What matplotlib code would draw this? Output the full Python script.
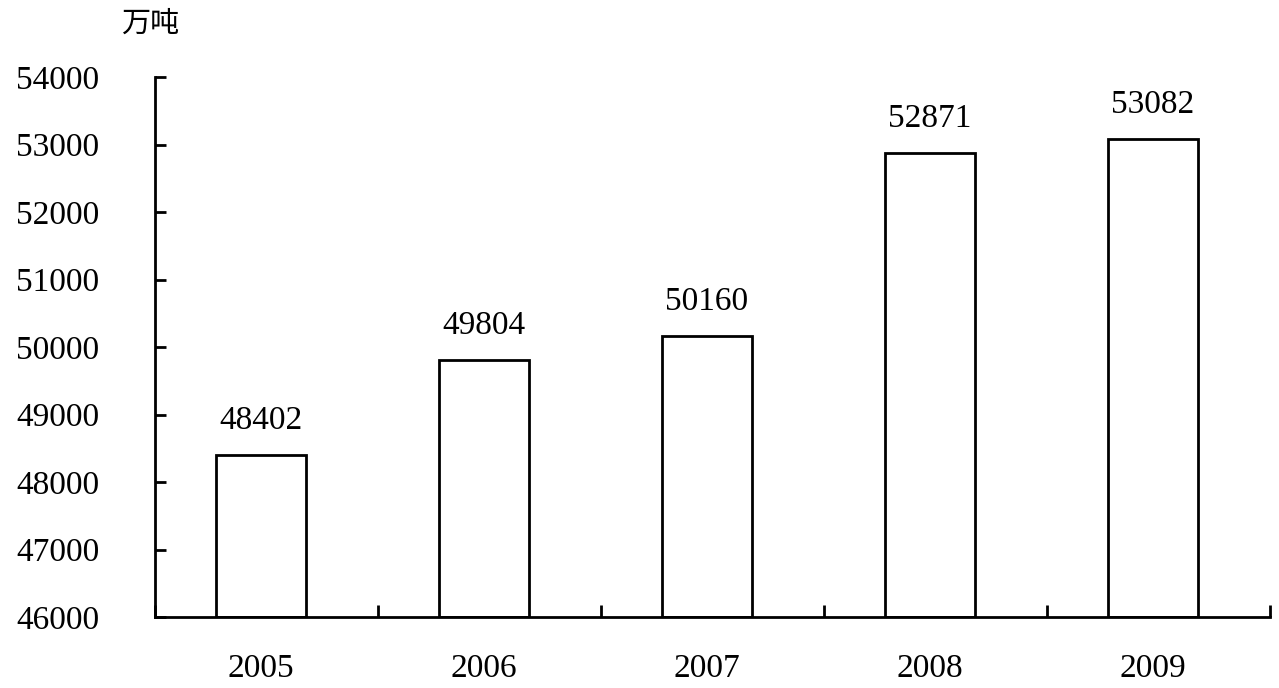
import matplotlib
matplotlib.use("Agg")
import matplotlib.pyplot as plt
import numpy as np

years = ["2005", "2006", "2007", "2008", "2009"]
values = [48402, 49804, 50160, 52871, 53082]
yticks = [46000, 47000, 48000, 49000, 50000, 51000, 52000, 53000, 54000]
unit = "万吨"

plt.rcParams['font.family'] = ['Liberation Serif', 'DejaVu Serif']

fig = plt.figure(figsize=(12.79, 6.88), dpi=100)
ax = fig.add_axes([155/1279, 1-617/688, (1270-155)/1279, (617-77)/688])

x = np.arange(len(years))
xb = x - 0.025
ax.bar(xb, [v - yticks[0] for v in values], bottom=yticks[0], width=0.40,
       facecolor='white', edgecolor='black', linewidth=2.0, zorder=2)

for xi, v in zip(xb, values):
    ax.text(xi, v + 280, str(v), ha='center', va='bottom', fontsize=24)

ax.set_xlim(-0.5, len(years) - 0.5)
ax.set_ylim(yticks[0], yticks[-1])
ax.set_yticks(yticks)
ax.set_yticklabels([str(t) for t in yticks], fontsize=24)
ax.set_xticks(xb)
ax.set_xticklabels(years, fontsize=24)
ax.set_xticks(np.arange(len(years) + 1) - 0.5, minor=True)

ax.tick_params(axis='y', direction='in', length=8, width=2, pad=40)
ax.tick_params(axis='x', which='major', length=0, pad=26)
ax.tick_params(axis='x', which='minor', direction='in', length=9, width=2)

for s in ['top', 'right']:
    ax.spines[s].set_visible(False)
for s in ['left', 'bottom']:
    ax.spines[s].set_linewidth(2)

fig.text(150/1279, 1-24/688, unit, ha='center', va='center', fontsize=21,
         family=['Noto Sans CJK SC', 'DejaVu Sans'])

fig.savefig("out.png", dpi=100)
